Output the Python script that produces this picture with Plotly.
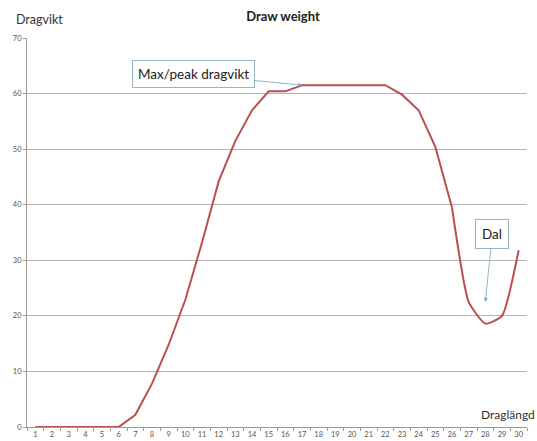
import plotly.graph_objects as go

categories = [str(i) for i in range(1, 31)]
draw_weight = [0, 0, 0, 0, 0, 0, 2.2, 7.8, 14.8, 22.9, 33.2, 44.2, 51.5, 57.0, 60.4,
               60.4, 61.5, 61.5, 61.5, 61.5, 61.5, 61.5, 59.8, 57.0, 50.4, 39.5, 22.5,
               18.6, 20.0, 31.8]
y_ticks = [0, 10, 20, 30, 40, 50, 60, 70]

line_color = "#b9504d"
split = 25  # index where the smoothed valley section starts

fig = go.Figure()
fig.add_trace(go.Scatter(x=categories[:split + 1], y=draw_weight[:split + 1], mode="lines",
                         line=dict(color=line_color, width=2), showlegend=False))
fig.add_trace(go.Scatter(x=categories[split:], y=draw_weight[split:], mode="lines",
                         line=dict(color=line_color, width=2, shape="spline", smoothing=0.5),
                         showlegend=False))

grid = "#b4b4b4"
fig.update_layout(
    width=537, height=441,
    margin=dict(l=27, r=10, t=38, b=14),
    paper_bgcolor="white", plot_bgcolor="white",
    font=dict(family="Lato, Noto Sans, sans-serif", color="#333333"),
    title=dict(text="<b>Draw weight</b>", x=283 / 537, xanchor="center",
               y=1 - 16 / 441, yanchor="middle", font=dict(size=13, color="#222222")),
    xaxis=dict(type="category", categoryorder="array", categoryarray=categories,
               range=[-0.5, 29.5], showgrid=False, showline=True, linecolor="#9a9a9a",
               ticks="outside", tickson="boundaries", ticklen=3, tickcolor="#9a9a9a",
               tickangle=0, automargin=False,
               tickfont=dict(size=7.5, color="#555555"), zeroline=False),
    yaxis=dict(range=[0, 70], tickvals=y_ticks, showgrid=True, gridcolor=grid,
               gridwidth=1, showline=True, linecolor="#9a9a9a", ticks="outside",
               ticklen=3, tickcolor="#9a9a9a", tickfont=dict(size=7.5, color="#555555"),
               automargin=False, zeroline=False),
)

fig.add_annotation(text="Dragvikt", xref="paper", yref="paper", x=-0.026, y=(427 - 19) / 389,
                   xanchor="left", yanchor="middle", showarrow=False,
                   font=dict(size=12.5, color="#333333"))
fig.add_annotation(text="Draglängd", xref="paper", yref="y", x=1.019, y=2.3,
                   xanchor="right", yanchor="middle", showarrow=False,
                   font=dict(size=12, color="#333333"))

arrow_col = "#6fa6c4"
box_col = "#93b6cc"
peak_idx = categories.index("17")
valley_idx = categories.index("28")
fig.add_annotation(text="Max/peak dragvikt", x=peak_idx, y=61.5, xref="x", yref="y",
                   ax=-109, ay=-11, axref="pixel", ayref="pixel", showarrow=True,
                   arrowhead=2, arrowsize=1, arrowwidth=0.8, arrowcolor=arrow_col,
                   bgcolor="white", bordercolor=box_col, borderwidth=1, borderpad=5,
                   font=dict(size=13.5, color="#222222"))
fig.add_annotation(text="Dal", x=valley_idx, y=22.5, xref="x", yref="y",
                   ax=7, ay=-68, showarrow=True,
                   arrowhead=2, arrowsize=1, arrowwidth=0.8, arrowcolor=arrow_col,
                   bgcolor="white", bordercolor=box_col, borderwidth=1, borderpad=6,
                   font=dict(size=13.5, color="#222222"))

fig.write_html("out.html", config={"displayModeBar": False},
               post_script="document.body.style.margin='0';")
